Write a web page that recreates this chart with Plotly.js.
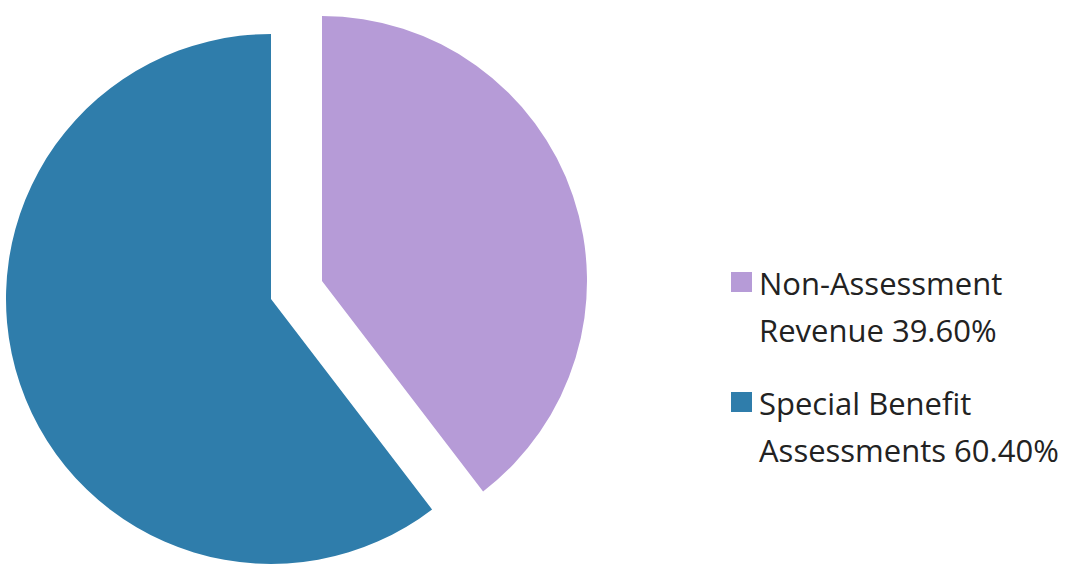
<!DOCTYPE html>
<html>
<head>
<meta charset="utf-8">
<script src="https://cdn.plot.ly/plotly-3.0.1.min.js"></script>
<style>
  html, body { margin: 0; padding: 0; background: #ffffff; }
  #chart { width: 1091px; height: 575px; }
</style>
</head>
<body>
<div id="chart"></div>
<script>
// ---- data ----
const labels = ["Non-Assessment Revenue", "Special Benefit Assessments"];
const values = [39.60, 60.40];
const legendLine1 = ["Non-Assessment", "Special Benefit"];
const legendLine2 = ["Revenue", "Assessments"];
const colors = ["#b69bd7", "#2f7dab"];

// ---- layout helpers ----
const W = 1091, H = 575;
const R = 265;
// pie centres (pixels from top-left); second one is the exploded slice
const centres = [[271, 299], [322, 281]];
function domainFor(c) {
  return {
    x: [(c[0] - R) / W, (c[0] + R) / W],
    y: [(H - c[1] - R) / H, (H - c[1] + R) / H]
  };
}

const clear = "rgba(0,0,0,0)";
const traces = [
  { // base slice (Special Benefit)
    type: "pie", labels: labels, values: values, sort: false,
    direction: "clockwise", rotation: 0,
    marker: { colors: [clear, colors[1]], line: { width: 0 } },
    textinfo: "none", hoverinfo: "skip", showlegend: false,
    domain: domainFor(centres[0])
  },
  { // exploded slice (Non-Assessment)
    type: "pie", labels: labels, values: values, sort: false,
    direction: "clockwise", rotation: 0,
    marker: { colors: [colors[0], clear], line: { width: 0 } },
    textinfo: "none", hoverinfo: "skip", showlegend: false,
    domain: domainFor(centres[1])
  }
];

const fontFam = "'Open Sans', sans-serif";
const fontSize = 31;
const annotations = [];
const shapes = [];
const legendTop = [282, 402];   // y of legend square centre (px)
const lineGap = 47;
for (let i = 0; i < labels.length; i++) {
  const yc = legendTop[i];
  shapes.push({
    type: "rect", xref: "paper", yref: "paper",
    x0: 731 / W, x1: 752 / W,
    y0: 1 - (yc - 10) / H, y1: 1 - (yc + 10) / H,
    fillcolor: colors[i], line: { width: 0 }
  });
  const lines = [legendLine1[i], legendLine2[i] + " " + values[i].toFixed(2) + "%"];
  lines.forEach((t, k) => {
    annotations.push({
      text: t, xref: "paper", yref: "paper",
      x: 757 / W, y: 1 - (yc + 1 + k * lineGap) / H,
      xanchor: "left", yanchor: "middle", showarrow: false,
      font: { family: fontFam, size: fontSize, color: "#222222" }
    });
  });
}

const layout = {
  width: W, height: H,
  margin: { l: 0, r: 0, t: 0, b: 0, pad: 0 },
  paper_bgcolor: "#ffffff",
  showlegend: false,
  annotations: annotations,
  shapes: shapes
};

Plotly.newPlot("chart", traces, layout, { displayModeBar: false, staticPlot: true });
</script>
</body>
</html>
